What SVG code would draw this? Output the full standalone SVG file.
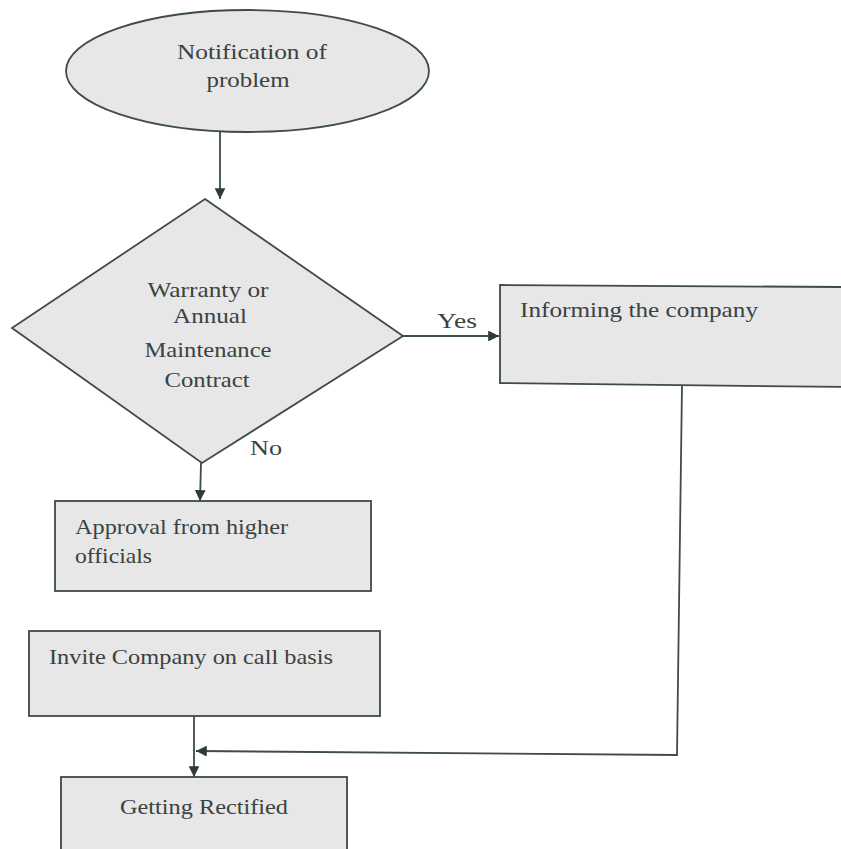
<svg xmlns="http://www.w3.org/2000/svg" width="841" height="849" viewBox="0 0 841 849">
  <style>
    .shape { fill: #e6e7e6; stroke: #3d4b4b; stroke-width: 1.8; }
    .txt { font-family: "Liberation Serif", "Times New Roman", serif; font-size: 21px; fill: #3a4242; }
    .lbl { font-family: "Liberation Serif", "Times New Roman", serif; font-size: 22px; fill: #3a4242; }
    .conn { fill: none; stroke: #3d4b4b; stroke-width: 1.8; }
  </style>
  <defs>
    <marker id="arrow" viewBox="0 0 10 10" refX="10" refY="5" markerWidth="7" markerHeight="6" orient="auto" markerUnits="strokeWidth">
      <path d="M0,0 L10,5 L0,10 Z" fill="#2f3b3b"/>
    </marker>
  </defs>
  <rect x="0" y="0" width="841" height="849" fill="#ffffff"/>

  <g id="node-notification">
    <ellipse class="shape" cx="247.5" cy="71" rx="181.5" ry="61"/>
    <text class="txt" x="252" y="59" text-anchor="middle" textLength="150" lengthAdjust="spacingAndGlyphs">Notification of</text>
    <text class="txt" x="248" y="87" text-anchor="middle" textLength="83" lengthAdjust="spacingAndGlyphs">problem</text>
  </g>

  <g id="node-warranty">
    <polygon class="shape" points="205,199 403,336 202,463 12,328"/>
    <text class="txt" x="208" y="297" text-anchor="middle" textLength="121" lengthAdjust="spacingAndGlyphs">Warranty or</text>
    <text class="txt" x="210" y="323" text-anchor="middle" textLength="74" lengthAdjust="spacingAndGlyphs">Annual</text>
    <text class="txt" x="208" y="357" text-anchor="middle" textLength="127" lengthAdjust="spacingAndGlyphs">Maintenance</text>
    <text class="txt" x="207" y="387" text-anchor="middle" textLength="85" lengthAdjust="spacingAndGlyphs">Contract</text>
  </g>

  <g id="node-informing">
    <polygon class="shape" points="500,285 845,287 845,387 500,383"/>
    <text class="txt" x="520" y="317" textLength="238" lengthAdjust="spacingAndGlyphs">Informing the company</text>
  </g>

  <g id="node-approval">
    <rect class="shape" x="55" y="501" width="316" height="90"/>
    <text class="txt" x="75" y="534" textLength="213" lengthAdjust="spacingAndGlyphs">Approval from higher</text>
    <text class="txt" x="75" y="563" textLength="77" lengthAdjust="spacingAndGlyphs">officials</text>
  </g>

  <g id="node-invite">
    <rect class="shape" x="29" y="631" width="351" height="85"/>
    <text class="txt" x="49" y="664" textLength="284" lengthAdjust="spacingAndGlyphs">Invite Company on call basis</text>
  </g>

  <g id="node-rectified">
    <rect class="shape" x="61" y="777" width="286" height="80"/>
    <text class="txt" x="204" y="814" text-anchor="middle" textLength="168" lengthAdjust="spacingAndGlyphs">Getting Rectified</text>
  </g>

  <g id="connectors">
    <line class="conn" x1="220" y1="132" x2="220" y2="199" marker-end="url(#arrow)"/>
    <line class="conn" x1="403" y1="336" x2="499" y2="336" marker-end="url(#arrow)"/>
    <line class="conn" x1="201" y1="463" x2="200" y2="501" marker-end="url(#arrow)"/>
    <polyline class="conn" points="682,385 677,755 196,751" marker-end="url(#arrow)"/>
    <line class="conn" x1="194" y1="716" x2="194" y2="777" marker-end="url(#arrow)"/>
    <text class="lbl" x="437" y="328" textLength="40" lengthAdjust="spacingAndGlyphs">Yes</text>
    <text class="lbl" x="250" y="455" textLength="32" lengthAdjust="spacingAndGlyphs">No</text>
  </g>
</svg>
